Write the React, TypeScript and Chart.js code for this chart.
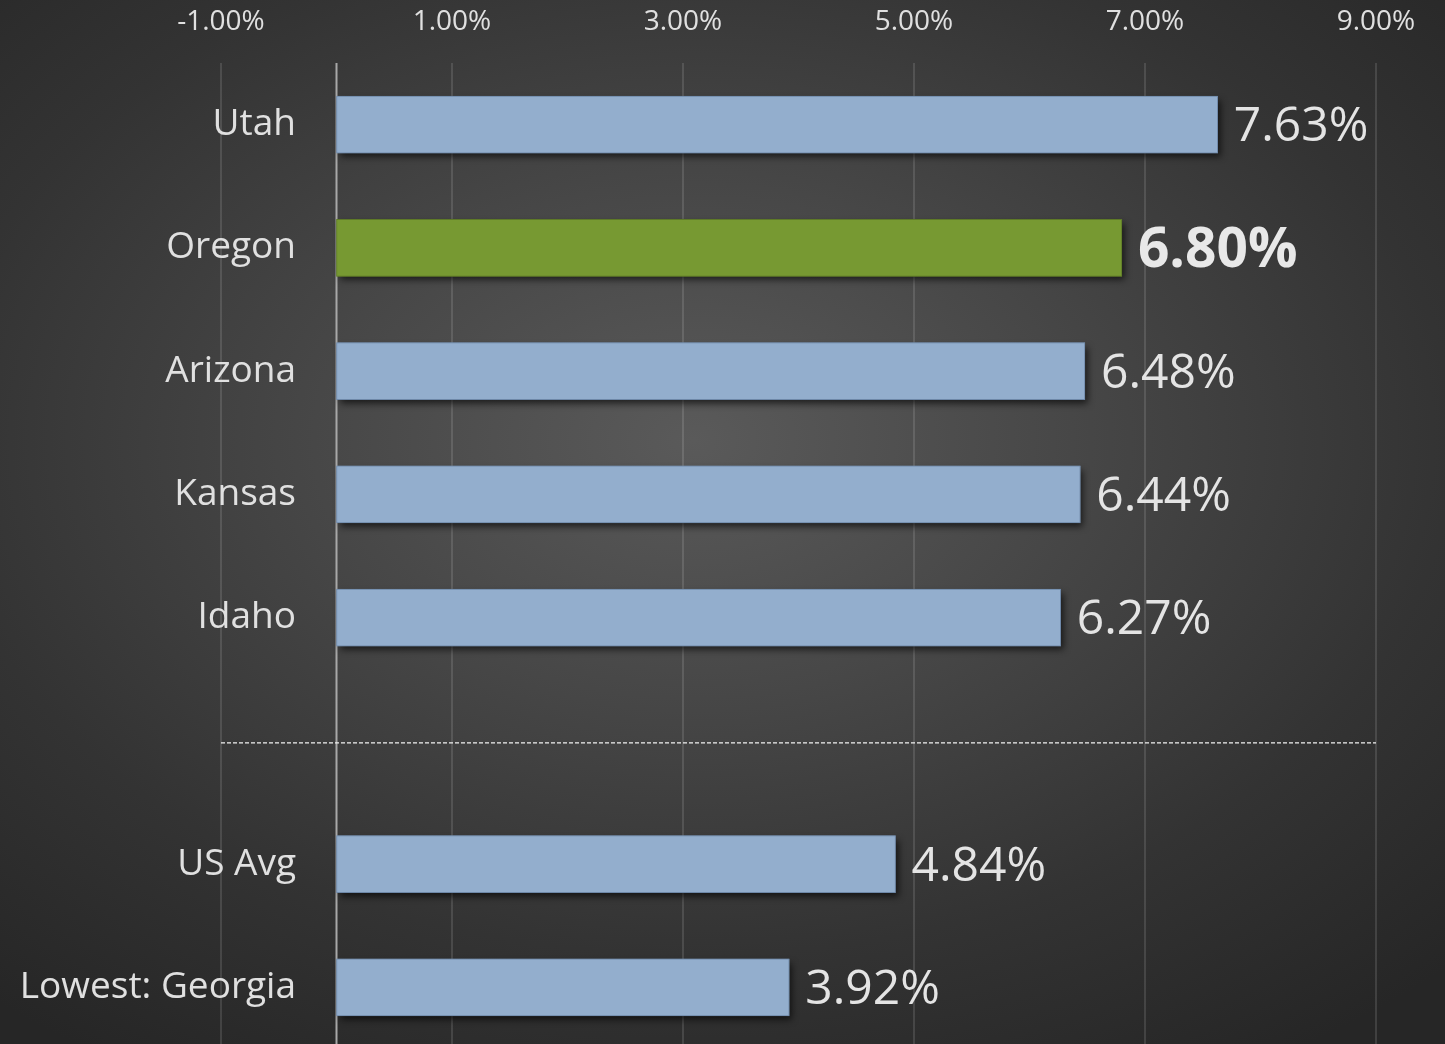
import React, { useEffect, useRef } from 'react';
import { Chart, registerables } from 'chart.js';

Chart.register(...registerables);

const categories = ['Utah', 'Oregon', 'Arizona', 'Kansas', 'Idaho', '', 'US Avg', 'Lowest: Georgia'];
const values: (number | null)[] = [7.63, 6.8, 6.48, 6.44, 6.27, null, 4.84, 3.92];
const highlightIndex = 1;
const separatorIndex = 5;
const xMin = -1;
const xMax = 9;
const xStep = 2;

const BLUE = '#93AECD';
const BLUE_BORDER = '#6E88A8';
const GREEN = '#779932';
const GREEN_BORDER = '#5E7A27';
const FONT = "'Open Sans', 'Noto Sans', sans-serif";
const Y_FONT_SIZE = 37;

const W = 1445;
const H = 1049;

export default function App() {
  const ref = useRef<HTMLCanvasElement | null>(null);

  useEffect(() => {
    document.body.style.margin = '0';
    document.body.style.overflow = 'hidden';
    const canvas = ref.current;
    if (!canvas) return;

    const mctx = canvas.getContext('2d')!;
    mctx.font = `${Y_FONT_SIZE}px ${FONT}`;
    const widest = Math.max(...categories.map((c) => mctx.measureText(c).width));
    const yLabelRight = 296;
    const yAxisWidth = 221;
    const yPad = yLabelRight - yAxisWidth - widest;

    const decorPlugin = {
      id: 'decor',
      beforeDatasetsDraw(chart: any) {
        const { ctx, chartArea, scales } = chart;
        const x0 = scales.x.getPixelForValue(0);
        ctx.save();
        ctx.strokeStyle = '#a8a8a8';
        ctx.lineWidth = 2;
        ctx.beginPath();
        ctx.moveTo(x0, chartArea.top);
        ctx.lineTo(x0, chartArea.bottom);
        ctx.stroke();
        ctx.restore();
        const meta = chart.getDatasetMeta(0);
        ctx.save();
        ctx.shadowColor = 'rgba(0,0,0,0.65)';
        ctx.shadowBlur = 7;
        ctx.shadowOffsetX = 3;
        ctx.shadowOffsetY = 4;
        meta.data.forEach((el: any, i: number) => {
          if (values[i] == null) return;
          const { x, y, base, height } = el.getProps(['x', 'y', 'base', 'height'], true);
          const left = Math.min(x, base);
          const w = Math.abs(x - base);
          ctx.fillStyle = i === highlightIndex ? GREEN : BLUE;
          ctx.fillRect(left, y - height / 2, w, height);
        });
        ctx.restore();
      },
      afterDatasetsDraw(chart: any) {
        const { ctx, chartArea, scales } = chart;
        const ys = scales.y.getPixelForValue(separatorIndex);
        ctx.save();
        ctx.strokeStyle = '#f2f2f2';
        ctx.lineWidth = 1.3;
        ctx.setLineDash([4, 2]);
        ctx.beginPath();
        ctx.moveTo(chartArea.left, ys + 2);
        ctx.lineTo(chartArea.right, ys + 2);
        ctx.stroke();
        ctx.restore();
        const meta = chart.getDatasetMeta(0);
        ctx.save();
        ctx.textBaseline = 'middle';
        ctx.textAlign = 'left';
        meta.data.forEach((el: any, i: number) => {
          const v = values[i];
          if (v == null) return;
          const bold = i === highlightIndex;
          ctx.font = bold ? `bold 55px ${FONT}` : `48px ${FONT}`;
          ctx.fillStyle = bold ? '#e8e8e8' : '#e4e4e4';
          ctx.fillText(v.toFixed(2) + '%', el.x + 16, el.y + 3);
        });
        ctx.restore();
      },
    };

    const chart = new Chart(canvas, {
      type: 'bar',
      data: {
        labels: categories,
        datasets: [
          {
            data: values,
            backgroundColor: values.map((_, i) => (i === highlightIndex ? GREEN : BLUE)),
            borderColor: values.map((_, i) => (i === highlightIndex ? GREEN_BORDER : BLUE_BORDER)),
            borderWidth: 1,
            borderSkipped: false,
            barThickness: 57,
          },
        ],
      },
      options: {
        indexAxis: 'y',
        animation: false,
        responsive: false,
        devicePixelRatio: 1,
        layout: { padding: { left: 0, right: 69, top: 0, bottom: 0 } },
        plugins: {
          legend: { display: false },
          tooltip: { enabled: false },
        },
        scales: {
          x: {
            type: 'linear',
            position: 'top',
            min: xMin,
            max: xMax,
            afterFit: (s: any) => {
              s.height = 63;
            },
            ticks: {
              stepSize: xStep,
              color: '#e0e0e0',
              font: { family: FONT, size: 28 },
              padding: 24,
              callback: (v: any) => Number(v).toFixed(2) + '%',
            },
            grid: {
              color: 'rgba(255,255,255,0.12)',
              lineWidth: 2,
              drawTicks: false,
            },
            border: { display: false },
          },
          y: {
            type: 'category',
            position: 'left',
            afterFit: (s: any) => {
              s.width = yAxisWidth;
            },
            ticks: {
              color: '#e0e0e0',
              font: { family: FONT, size: Y_FONT_SIZE, lineHeight: 1.1 },
              mirror: true,
              crossAlign: 'far',
              padding: yPad,
            },
            grid: { display: false, drawTicks: false },
            border: { display: false },
          },
        },
      },
      plugins: [decorPlugin],
    });

    return () => chart.destroy();
  }, []);

  return (
    <div
      style={{
        position: 'absolute',
        left: 0,
        top: 0,
        width: W,
        height: H,
        background:
          'radial-gradient(ellipse 75% 70% at 48% 42%, #5a5a5a 0%, #474747 35%, #333333 70%, #262626 100%)',
      }}
    >
      <canvas ref={ref} width={W} height={H} style={{ display: 'block', width: W, height: H }} />
    </div>
  );
}
